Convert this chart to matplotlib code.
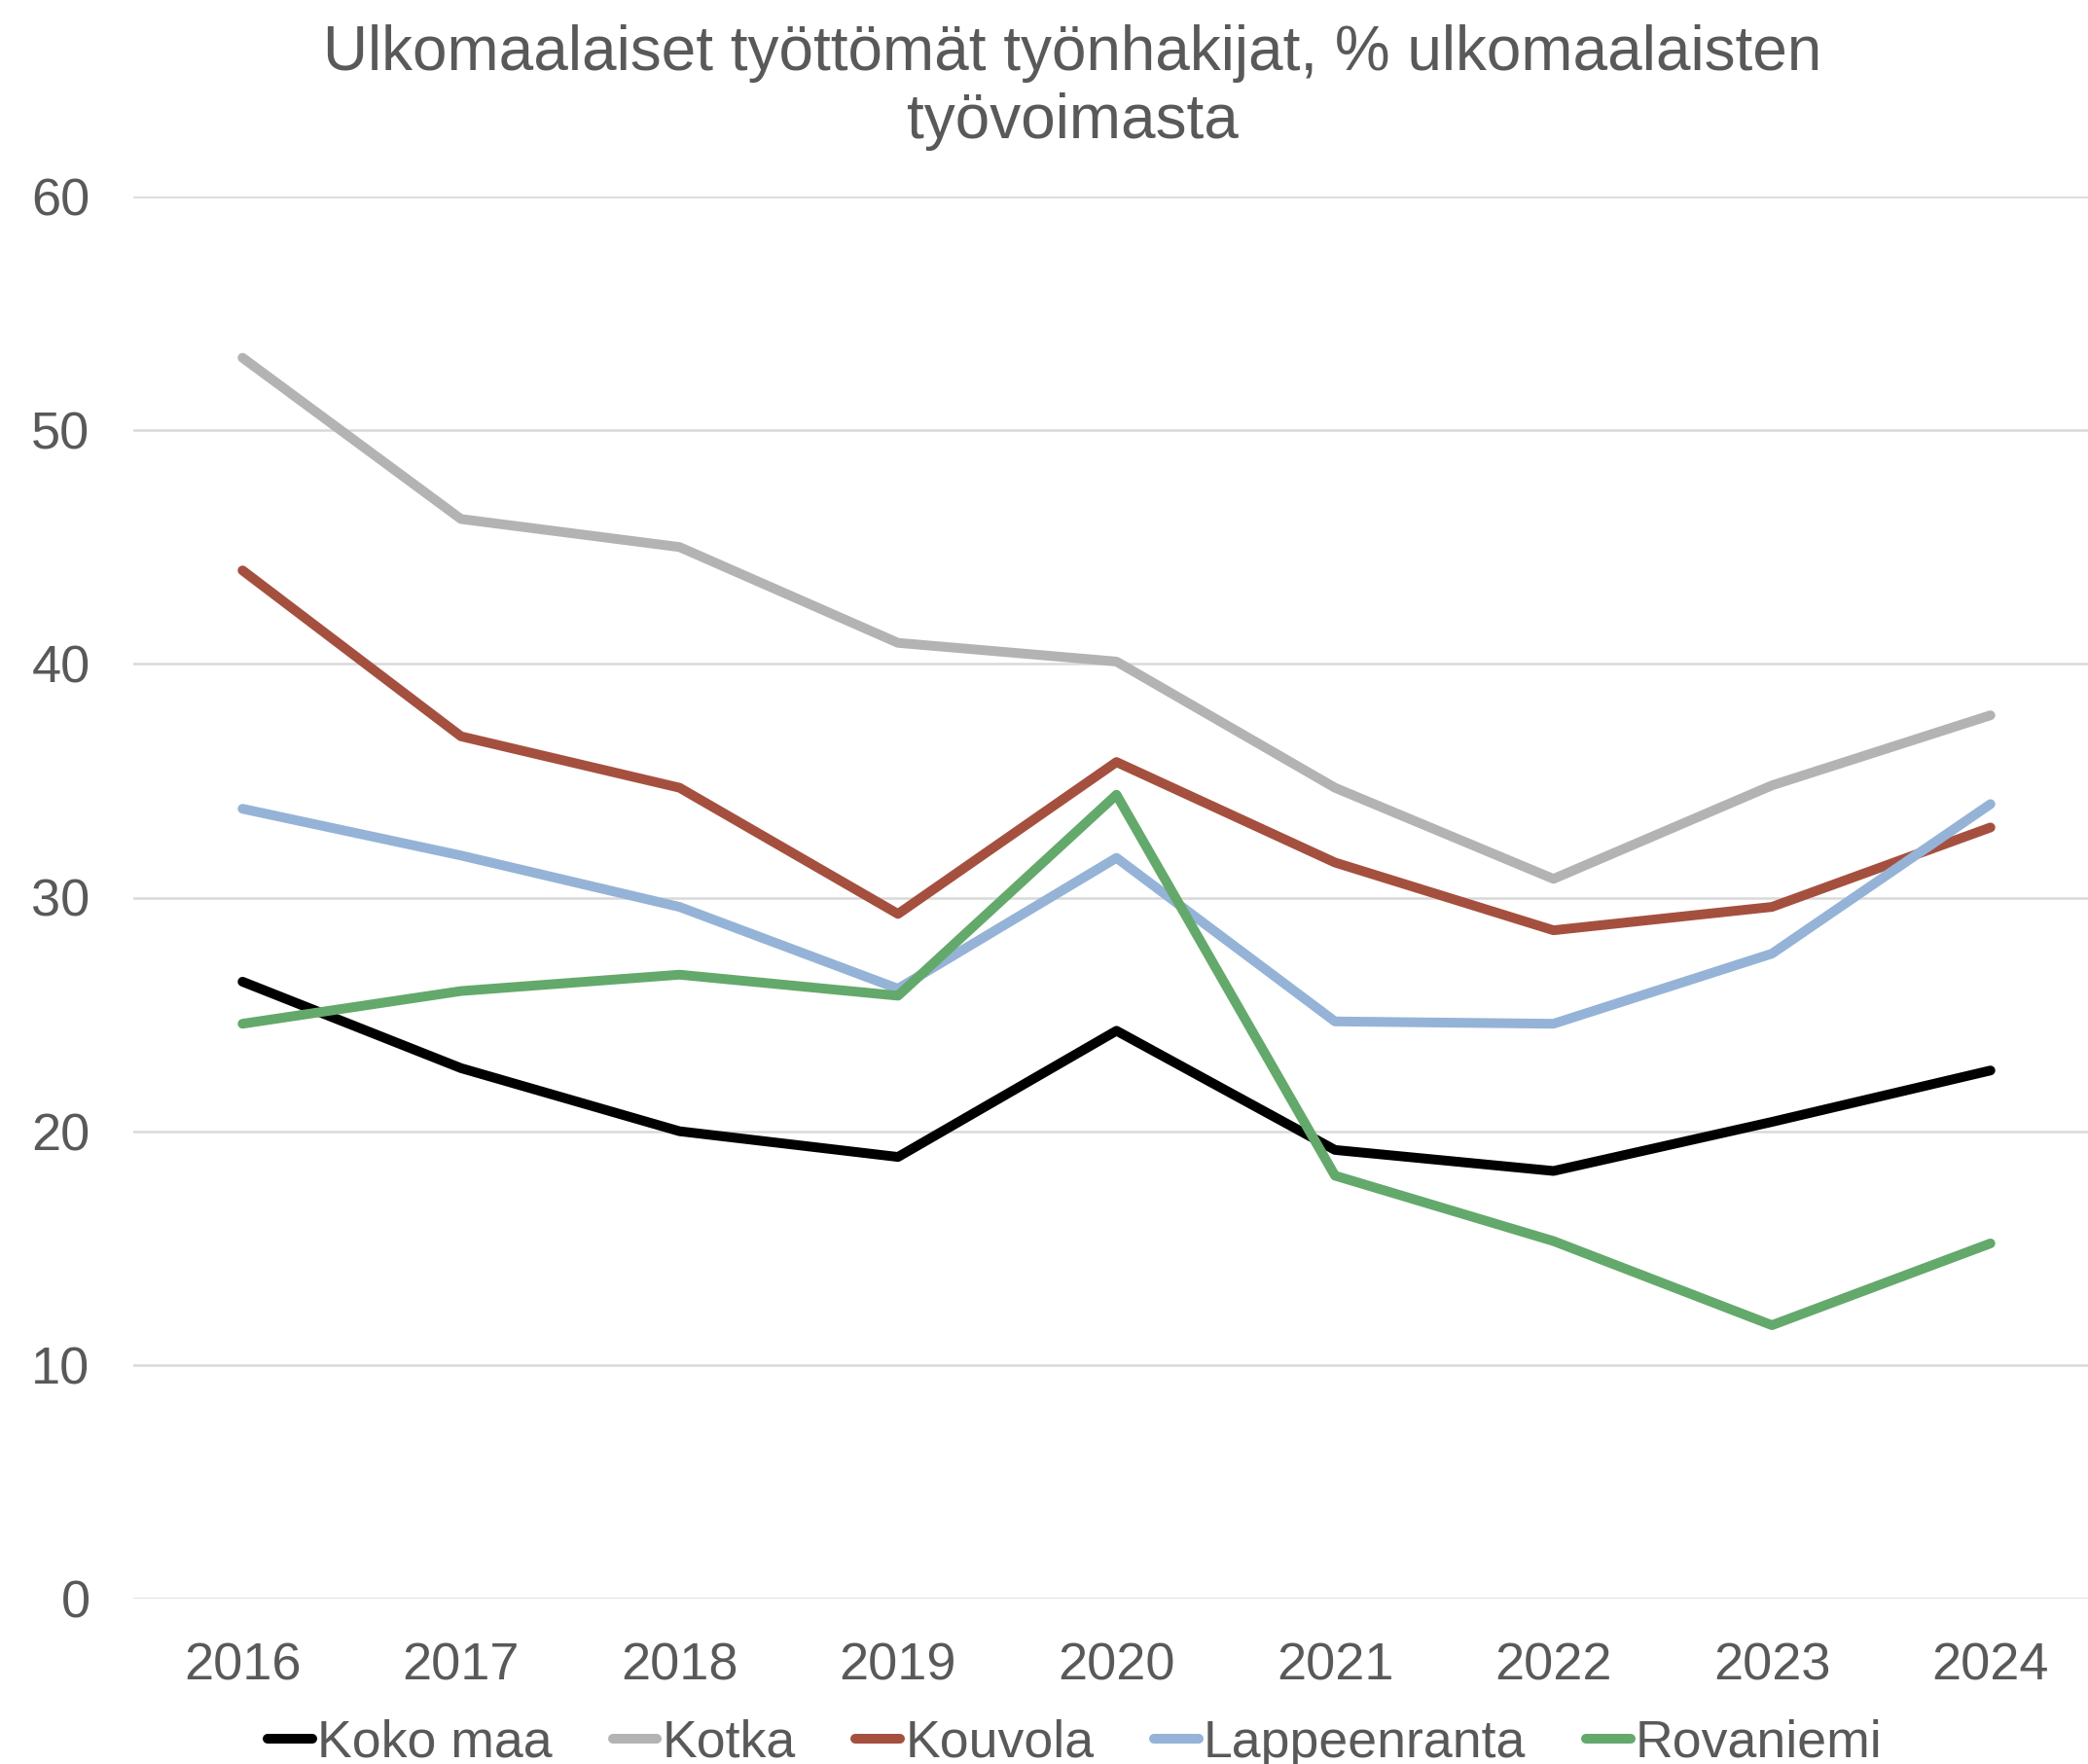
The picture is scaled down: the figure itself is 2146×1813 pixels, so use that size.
import matplotlib.pyplot as plt

plt.rcParams['font.family'] = ['Liberation Sans', 'DejaVu Sans']

years = ['2016', '2017', '2018', '2019', '2020', '2021', '2022', '2023', '2024']
koko_maa = [26.4, 22.7, 20.0, 18.9, 24.3, 19.2, 18.3, 20.4, 22.6]
kotka = [53.1, 46.2, 45.0, 40.9, 40.1, 34.7, 30.8, 34.8, 37.8]
kouvola = [44.0, 36.9, 34.7, 29.3, 35.8, 31.5, 28.6, 29.6, 33.0]
lappeenranta = [33.8, 31.8, 29.6, 26.1, 31.7, 24.7, 24.6, 27.6, 34.0]
rovaniemi = [24.6, 26.0, 26.7, 25.8, 34.4, 18.1, 15.3, 11.7, 15.2]

series = [
    ('Koko maa', koko_maa, '#000000'),
    ('Kotka', kotka, '#B3B3B3'),
    ('Kouvola', kouvola, '#A5503F'),
    ('Lappeenranta', lappeenranta, '#95B3D7'),
    ('Rovaniemi', rovaniemi, '#63A96B'),
]

W, H = 2146, 1813
fig = plt.figure(figsize=(W / 200, H / 200), dpi=200)
left, right = 137, 2158
top, bottom = 202, 1643
ax = fig.add_axes([left / W, 1 - bottom / H, (right - left) / W, (bottom - top) / H])

x = list(range(len(years)))
for name, vals, col in series:
    ax.plot(x, vals, color=col, linewidth=3.6, label=name,
            solid_capstyle='round', solid_joinstyle='round')

ax.set_xlim(-0.5, len(years) - 0.5)
ax.set_ylim(0, 60)
ax.set_yticks(range(0, 61, 10))
ax.set_xticks(x)
ax.set_xticklabels(years)
ax.grid(axis='y', color='#D9D9D9', linewidth=0.9)
ax.set_axisbelow(True)
for s in ax.spines.values():
    s.set_visible(False)
ax.tick_params(axis='both', length=0, labelsize=19.5, labelcolor='#595959')
ax.tick_params(axis='x', pad=16)
ax.tick_params(axis='y', pad=16)

fig.text(1102 / W, 1 - 90 / H, 'Ulkomaalaiset työttömät työnhakijat, % ulkomaalaisten\ntyövoimasta',
         ha='center', va='center', fontsize=23, color='#595959', linespacing=1.2)

leg = fig.legend(loc='center', bbox_to_anchor=(1105 / W, 1 - 1792 / H), ncol=5,
                 frameon=False, fontsize=19.3, handlelength=0.85, handletextpad=0.1,
                 columnspacing=1.15, borderaxespad=0)
for t in leg.get_texts():
    t.set_color('#595959')
for h in leg.get_lines():
    h.set_linewidth(3.6)
    h.set_solid_capstyle('round')

fig.savefig('out.png', dpi=200, facecolor='white')
